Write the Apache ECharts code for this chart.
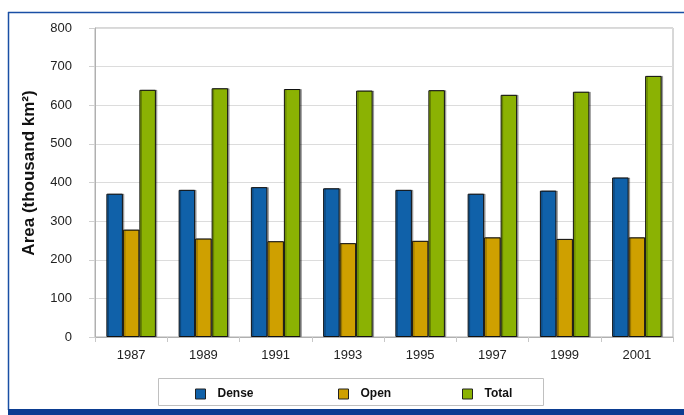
<!DOCTYPE html>
<html><head><meta charset="utf-8">
<script src="https://cdn.jsdelivr.net/npm/echarts@6/dist/echarts.min.js"></script>
<style>html,body{margin:0;padding:0;background:#fff}#c{width:684px;height:415px}</style>
</head><body><div id="c"></div>
<script>
const years = ['1987','1989','1991','1993','1995','1997','1999','2001'];
const dense = [371, 381, 388, 385, 381, 371, 379, 413];
const open = [278, 255, 248, 243, 249, 258, 254, 258];
const total = [640, 644, 642, 638, 639, 627, 635, 676];
const yTicks = [0, 100, 200, 300, 400, 500, 600, 700, 800];
const yTitle = 'Area (thousand km²)';

const colors = {Dense:'#1061A9', Open:'#CFA000', Total:'#8BB203'};
const chart = echarts.init(document.getElementById('c'));
const font = 'Liberation Sans, Arial, sans-serif';
function ser(name, data){
  return {name, type:'bar', data, barWidth:16.5, barGap:'0%',
    itemStyle:{color:colors[name], borderColor:'#111', borderWidth:1,
      shadowColor:'rgba(0,0,0,0.3)', shadowOffsetX:1.5, shadowOffsetY:0, shadowBlur:0}};
}
function leg(name, left){
  return {data:[name], left, top:388, itemWidth:10, itemHeight:10, itemGap:0,
    icon:'rect', textStyle:{fontFamily:font, fontWeight:'bold', fontSize:12, color:'#111', padding:[0,0,0,7]},
    itemStyle:{borderColor:'#222', borderWidth:1}, padding:0, selectedMode:false};
}
chart.setOption({
  animation:false,
  textStyle:{fontFamily:font},
  grid:{left:95, top:28, right:11, bottom:78, show:true, borderColor:'#b0b0b0', borderWidth:1},
  legend:[leg('Dense',195), leg('Open',338), leg('Total',462)],
  xAxis:{type:'category', data:years,
    axisLine:{lineStyle:{color:'#b0b0b0'}},
    axisTick:{show:true, length:5, lineStyle:{color:'#c8c8c8'}},
    axisLabel:{color:'#222', fontSize:13, margin:12, fontFamily:font}},
  yAxis:{type:'value', min:yTicks[0], max:yTicks[yTicks.length-1], interval:100,
    axisLine:{show:true, lineStyle:{color:'#b0b0b0'}},
    axisTick:{show:true, length:6, lineStyle:{color:'#d0d0d0'}},
    splitLine:{lineStyle:{color:'#dcdcdc'}},
    axisLabel:{color:'#222', fontSize:13, margin:23, fontFamily:font}},
  series:[ser('Dense',dense), ser('Open',open), ser('Total',total)],
  graphic:[
    {type:'line', shape:{x1:8, y1:12.5, x2:684, y2:12.5}, style:{stroke:'#1a4fa5', lineWidth:1.5}, silent:true},
    {type:'line', shape:{x1:8.5, y1:12, x2:8.5, y2:410}, style:{stroke:'#1a4fa5', lineWidth:1.5}, silent:true},
    {type:'rect', shape:{x:8, y:409, width:676, height:6}, style:{fill:'#0b3d91'}, silent:true},
    {type:'rect', shape:{x:158.5, y:378.5, width:385, height:27}, style:{fill:'none', stroke:'#c0c0c0', lineWidth:1}, silent:true, z:-1},
    {type:'text', x:29, y:173, rotation:Math.PI/2, silent:true,
      style:{text:yTitle, fontSize:17, fontWeight:'bold', fill:'#111', fontFamily:font, align:'center', verticalAlign:'middle'}}
  ]
});
</script></body></html>
